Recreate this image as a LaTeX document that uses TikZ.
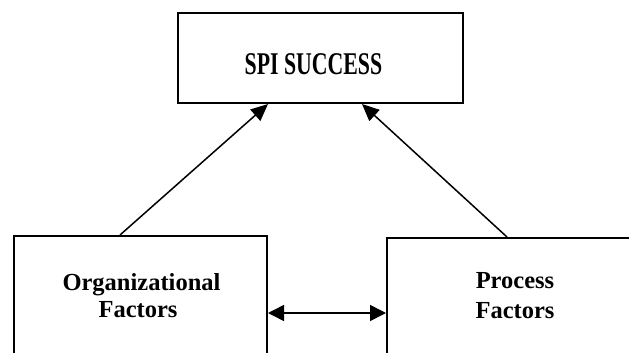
\documentclass[tikz,border=0pt]{standalone}
\usepackage{fontspec}
\setmainfont{Liberation Serif}
\usetikzlibrary{arrows.meta,calc}
\tikzset{
  box/.style={draw=black, line width=2pt, rectangle, inner sep=0pt},
  lbl/.style={inner sep=0pt, anchor=base, font=\bfseries\fontsize{24.5}{27}\selectfont},
  arr/.style={line width=1.5pt, -{Triangle[length=17pt,width=15pt]}},
  darr/.style={line width=1.5pt, {Triangle[length=16pt,width=16pt]}-{Triangle[length=16pt,width=16pt]}}
}
\begin{document}
\begin{tikzpicture}[x=1pt,y=-1pt]
\useasboundingbox (0,0) rectangle (629,353);
\clip (0,0) rectangle (629,353);
\fill[white] (0,0) rectangle (629,353);
\node[box, minimum width=285pt, minimum height=90pt] (top) at (320.5,58) {};
\node[box, minimum width=253pt, minimum height=124pt] (left) at (140.5,298) {};
\node[box, minimum width=256pt, minimum height=124pt] (right) at (515,300) {};
\node[inner sep=0pt, font=\bfseries\fontsize{21.8}{24}\selectfont] (spi) at (313.5,64) {\scalebox{1}[1.45]{SPI SUCCESS}};
\node[lbl] (org) at (141.5,290) {Organizational};
\node[lbl] (orgf) at (138,317) {Factors};
\node[lbl] (proc) at (515,288) {Process};
\node[lbl] (procf) at (515,318) {Factors};
\draw[arr] ([xshift=-20.5pt]left.north) -- ([xshift=-52.5pt]top.south);
\draw[arr] ([xshift=-8pt]right.north) -- ([xshift=41.5pt]top.south);
\draw[darr] ([yshift=-15pt]left.east) -- ([yshift=-15pt]left.east -| right.west);
\end{tikzpicture}
\end{document}
